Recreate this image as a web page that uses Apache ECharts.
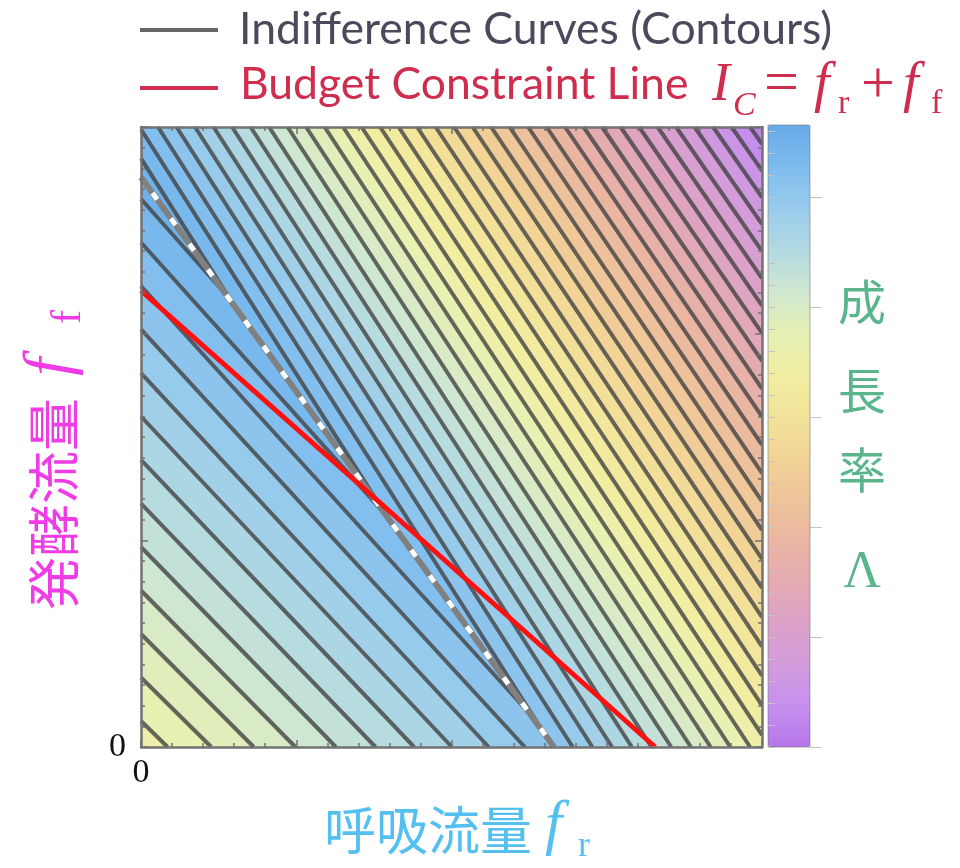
<!DOCTYPE html>
<html>
<head>
<meta charset="utf-8">
<script src="https://cdn.jsdelivr.net/npm/echarts@6.0.0/dist/echarts.min.js"></script>
<style>
  html, body { margin: 0; padding: 0; background: #ffffff; }
  #chart { width: 960px; height: 868px; }
</style>
</head>
<body>
<div id="chart"></div>
<script>
// ---- plot ranges -------------------------------------------------------
const FR_MAX = 1.0;      // respiration flux axis (x)
const FF_MAX = 1.125;    // fermentation flux axis (y)
const LAMBDA_MAX = 0.5655;

// ---- budget constraint  f_r + f_f = I_C --------------------------------
const budgetIC = 0.828;

// ---- optimal ridge (dashed) --------------------------------------------
const ridgeLine = [[0, 1.034], [0.665, 0]];

// ---- indifference curves ------------------------------------------------
// every contour is a kinked line: a "left" arm (fermentation side) and a
// "right" arm (respiration side) that meet on the ridge.
// right arm: f_r where its line crosses f_f = FF_MAX and f_f = 0
const rightArmTop = [-0.0320, -0.0023, 0.0275, 0.0573, 0.0871, 0.1169, 0.1467, 0.1765,
  0.2063, 0.2361, 0.2659, 0.2957, 0.3254, 0.3552, 0.3850, 0.4148, 0.4446, 0.4744,
  0.5042, 0.5340, 0.5638, 0.5936, 0.6234, 0.6531, 0.6829, 0.7127, 0.7425, 0.7723,
  0.8021, 0.8319, 0.8617, 0.8915, 0.9213, 0.9510, 0.9808];
const rightArmBottom = [0.5998, 0.6316, 0.6633, 0.6952, 0.7269, 0.7586, 0.7904, 0.8221,
  0.8538, 0.8855, 0.9173, 0.9490, 0.9808, 1.0125, 1.0443, 1.0760, 1.1077, 1.1394,
  1.1712, 1.2029, 1.2346, 1.2665, 1.2982, 1.3299, 1.3617, 1.3934, 1.4251, 1.4568,
  1.4886, 1.5203, 1.5522, 1.5839, 1.6156, 1.6473, 1.6791];
// left arm: f_f where its line crosses f_r = 0, and f_r where it crosses f_f = 0
const leftArmFF = [0.9944, 0.9154, 0.8365, 0.7576, 0.6786, 0.5997, 0.5208, 0.4418,
  0.3629, 0.2840, 0.2050, 0.1261, 0.0472, -0.0318,
  null, null, null, null, null, null, null, null, null, null, null, null, null, null,
  null, null, null, null, null, null, null];
const leftArmFR = [0.7844, 0.7301, 0.6747, 0.6180, 0.5599, 0.5006, 0.4398, 0.3776,
  0.3138, 0.2486, 0.1816, 0.1132, 0.0428, -0.0291,
  null, null, null, null, null, null, null, null, null, null, null, null, null, null,
  null, null, null, null, null, null, null];
// growth rate carried by each contour
const levelValues = [0.544, 0.529, 0.514, 0.499, 0.483, 0.468, 0.453, 0.438, 0.423,
  0.408, 0.392, 0.377, 0.362, 0.347, 0.332, 0.317, 0.301, 0.286, 0.271, 0.256, 0.241,
  0.226, 0.210, 0.195, 0.180, 0.165, 0.150, 0.135, 0.120, 0.104, 0.089, 0.074, 0.059,
  0.044, 0.029];

// ---- colour bar ticks ---------------------------------------------------
const cbMajorTicks = [0, 0.1, 0.2, 0.3, 0.4, 0.5];
const cbMinorTicks = [];
for (let v = 0; v <= LAMBDA_MAX + 1e-9; v += 0.02) cbMinorTicks.push(+v.toFixed(2));

const colorScale = ['#b676ea', '#c58fee', '#d29cdc', '#dca2c8', '#e4aab2', '#eab6a2',
  '#eec49a', '#f2d496', '#f2e39a', '#f1eea2', '#e6f0b6', '#cfe7d0', '#b2d9e2',
  '#98cbec', '#7ebcee', '#66aae8'];

// ---- geometry helpers ---------------------------------------------------
function armLine(i, side) {
  if (side === 'L') {
    const ffL = leftArmFF[i], frL = leftArmFR[i];
    if (ffL == null) return null;
    return { a: frL, b: -frL / ffL };          // f_r = a + b * f_f
  }
  return { a: rightArmBottom[i], b: (rightArmTop[i] - rightArmBottom[i]) / FF_MAX };
}

function clipHalf(poly, ln, sign) {
  const g = p => sign * (p[0] - ln.a - ln.b * p[1]);
  const out = [];
  for (let i = 0; i < poly.length; i++) {
    const P = poly[i], Q = poly[(i + 1) % poly.length];
    const gp = g(P), gq = g(Q);
    if (gp >= 0) out.push(P);
    if ((gp >= 0) !== (gq >= 0)) {
      const t = gp / (gp - gq);
      out.push([P[0] + t * (Q[0] - P[0]), P[1] + t * (Q[1] - P[1])]);
    }
  }
  return out;
}

const plotRect = [[0, 0], [FR_MAX, 0], [FR_MAX, FF_MAX], [0, FF_MAX]];

// region where growth >= contour i
function superLevel(i) {
  let poly = plotRect.slice();
  if (i < 0) return poly;
  const L = armLine(i, 'L'), R = armLine(i, 'R');
  if (L) poly = clipHalf(poly, L, 1);
  if (R && poly.length) poly = clipHalf(poly, R, -1);
  return poly;
}

// visible part of one arm
function armSegment(i, side) {
  const L = armLine(i, 'L'), R = armLine(i, 'R');
  const ln = side === 'L' ? L : R;
  if (!ln) return null;
  let lo = 0, hi = FF_MAX;
  const restrict = (c, d) => {           // c * ff <= d
    if (Math.abs(c) < 1e-12) { if (d < 0) hi = -Infinity; return; }
    if (c > 0) hi = Math.min(hi, d / c); else lo = Math.max(lo, d / c);
  };
  restrict(-ln.b, ln.a);
  restrict(ln.b, FR_MAX - ln.a);
  if (L && R) restrict(L.b - R.b, R.a - L.a);
  if (!(lo < hi)) return null;
  return [[ln.a + ln.b * lo, lo], [ln.a + ln.b * hi, hi]];
}

// band data: base first, then contours from lowest to highest growth
const bandData = [[-1, levelValues[levelValues.length - 1] - 0.0075]];
for (let i = levelValues.length - 1; i >= 0; i--) {
  const step = i > 0 ? (levelValues[i - 1] - levelValues[i]) : (levelValues[0] - levelValues[1]);
  bandData.push([i, levelValues[i] + step / 2]);
}
const contourData = levelValues.map((v, i) => [i, v]);

// ---- chart --------------------------------------------------------------
const chart = echarts.init(document.getElementById('chart'), null, { renderer: 'canvas' });

const frameColor = '#727272';
const tickStyle = { color: '#727272', width: 1.5 };
const zeroLabel = v => (Math.abs(v) < 1e-9 ? '0' : '');

function frameAxis(extra) {
  return Object.assign({
    type: 'value', gridIndex: 0, z: 20,
    axisLine: { show: true, onZero: false, lineStyle: { color: frameColor, width: 2.5 } },
    axisTick: { show: true, inside: true, length: 7, lineStyle: tickStyle },
    splitLine: { show: false }, axisLabel: { show: false }
  }, extra);
}
const zeroLabelStyle = { show: true, formatter: zeroLabel, color: '#111',
  fontFamily: 'Liberation Serif', fontSize: 34 };

const option = {
  animation: false,
  backgroundColor: '#ffffff',
  grid: [
    { left: 141, top: 127, width: 621, height: 620, show: false },
    { left: 768, top: 125, width: 42, height: 622, show: true, z: 20,
      borderColor: 'rgba(110,110,110,0.55)', borderWidth: 1, backgroundColor: 'transparent' }
  ],
  xAxis: [
    frameAxis({ min: 0, max: FR_MAX, interval: 0.25, position: 'bottom',
      minorTick: { show: true, splitNumber: 5, length: 4, lineStyle: tickStyle },
      axisLabel: Object.assign({ margin: 9 }, zeroLabelStyle) }),
    frameAxis({ min: 0, max: FR_MAX, interval: 0.25, position: 'top',
      minorTick: { show: true, splitNumber: 5, length: 4, lineStyle: tickStyle } }),
    { type: 'value', gridIndex: 1, min: 0, max: 1, show: false }
  ],
  yAxis: [
    frameAxis({ min: 0, max: FF_MAX, interval: 0.375, position: 'left',
      minorTick: { show: true, splitNumber: 10, length: 4, lineStyle: tickStyle },
      axisLabel: Object.assign({ margin: 15 }, zeroLabelStyle) }),
    frameAxis({ min: 0, max: FF_MAX, interval: 0.375, position: 'right',
      minorTick: { show: true, splitNumber: 10, length: 4, lineStyle: tickStyle } }),
    { type: 'value', gridIndex: 1, min: 0, max: LAMBDA_MAX, position: 'right', z: 20,
      axisLine: { show: false }, splitLine: { show: false }, axisLabel: { show: false },
      axisTick: { show: true, inside: false, length: 7, customValues: cbMinorTicks,
        lineStyle: { color: '#c2c2c2', width: 1 } } },
    { type: 'value', gridIndex: 1, min: 0, max: LAMBDA_MAX, position: 'right', z: 20,
      axisLine: { show: false }, splitLine: { show: false }, axisLabel: { show: false },
      axisTick: { show: true, inside: false, length: 12, customValues: cbMajorTicks,
        lineStyle: { color: '#c2c2c2', width: 1 } } }
  ],
  visualMap: {
    type: 'continuous', seriesIndex: 0, dimension: 1,
    min: 0, max: LAMBDA_MAX, orient: 'vertical',
    left: 768, top: 125, itemWidth: 42, itemHeight: 622, padding: 0,
    calculable: false, hoverLink: false, text: null, showLabel: false,
    inRange: { color: colorScale }
  },
  series: [
    { // growth-rate landscape, painted as nested super-level regions
      type: 'custom', xAxisIndex: 0, yAxisIndex: 0, silent: true, z: 1,
      data: bandData,
      renderItem: function (params, api) {
        const poly = superLevel(api.value(0));
        if (poly.length < 3) return null;
        return { type: 'polygon', z2: params.dataIndex,
          shape: { points: poly.map(p => api.coord(p)) },
          style: { fill: api.visual('color'), stroke: null } };
      }
    },
    { // indifference curves
      type: 'custom', xAxisIndex: 0, yAxisIndex: 0, silent: true, z: 5,
      data: contourData,
      renderItem: function (params, api) {
        const i = api.value(0);
        const kids = [];
        ['L', 'R'].forEach(side => {
          const seg = armSegment(i, side);
          if (!seg) return;
          const p1 = api.coord(seg[0]), p2 = api.coord(seg[1]);
          kids.push({ type: 'line', shape: { x1: p1[0], y1: p1[1], x2: p2[0], y2: p2[1] },
            style: { stroke: 'rgba(66,66,66,0.8)', lineWidth: 4, lineCap: 'butt' } });
        });
        return { type: 'group', children: kids };
      }
    },
    { type: 'line', xAxisIndex: 0, yAxisIndex: 0, data: ridgeLine, showSymbol: false, silent: true,
      lineStyle: { color: '#808080', width: 6 }, z: 6 },
    { type: 'line', xAxisIndex: 0, yAxisIndex: 0, data: ridgeLine, showSymbol: false, silent: true,
      lineStyle: { color: '#ffffff', width: 5, type: [8, 23.5], dashOffset: 12 }, z: 7 },
    { type: 'line', xAxisIndex: 0, yAxisIndex: 0, data: [[0, budgetIC], [budgetIC, 0]],
      showSymbol: false, silent: true, lineStyle: { color: '#ff1010', width: 5 }, z: 8 }
  ],
  graphic: [
    // legend
    { type: 'line', shape: { x1: 140, y1: 30, x2: 218, y2: 30 }, style: { stroke: '#666666', lineWidth: 4 } },
    { type: 'text', x: 239, y: 30, style: { text: 'Indifference Curves (Contours)', fontFamily: 'Lato',
      fontSize: 44.5, fill: '#4b4a5c', align: 'left', verticalAlign: 'middle' } },
    { type: 'line', shape: { x1: 140, y1: 88, x2: 218, y2: 88 }, style: { stroke: '#d0304e', lineWidth: 4 } },
    { type: 'text', x: 240, y: 85, style: { text: 'Budget Constraint Line', fontFamily: 'Lato',
      fontSize: 44.5, fill: '#cf2d4d', align: 'left', verticalAlign: 'middle' } },
    { type: 'text', x: 712, y: 86, style: { text: 'I', fontFamily: 'Liberation Serif', fontStyle: 'italic',
      fontSize: 54, fill: '#cf2d4d', verticalAlign: 'middle' } },
    { type: 'text', x: 733, y: 106, style: { text: 'C', fontFamily: 'Liberation Serif', fontStyle: 'italic',
      fontSize: 34, fill: '#cf2d4d', verticalAlign: 'middle' } },
    { type: 'text', x: 764, y: 86, style: { text: '=', fontFamily: 'Liberation Serif',
      fontSize: 62, fill: '#cf2d4d', verticalAlign: 'middle' } },
    { type: 'text', x: 814, y: 86, style: { text: 'f', fontFamily: 'Liberation Serif', fontStyle: 'italic',
      fontSize: 56, fill: '#cf2d4d', verticalAlign: 'middle' } },
    { type: 'text', x: 838, y: 104, style: { text: 'r', fontFamily: 'Liberation Serif',
      fontSize: 34, fill: '#cf2d4d', verticalAlign: 'middle' } },
    { type: 'text', x: 861, y: 86, style: { text: '+', fontFamily: 'Liberation Serif',
      fontSize: 60, fill: '#cf2d4d', verticalAlign: 'middle' } },
    { type: 'text', x: 903, y: 86, style: { text: 'f', fontFamily: 'Liberation Serif', fontStyle: 'italic',
      fontSize: 56, fill: '#cf2d4d', verticalAlign: 'middle' } },
    { type: 'text', x: 931, y: 104, style: { text: 'f', fontFamily: 'Liberation Serif',
      fontSize: 34, fill: '#cf2d4d', verticalAlign: 'middle' } },

    // y-axis title
    { type: 'group', x: 54, y: 448, rotation: Math.PI / 2, children: [
      { type: 'text', x: -162, y: 0, style: { text: '発酵流量', fontFamily: 'Noto Sans CJK JP',
        fontSize: 53, fill: '#f03ce6', align: 'left', verticalAlign: 'middle' } },
      { type: 'text', x: 72, y: -2, style: { text: 'f', fontFamily: 'Liberation Serif', fontStyle: 'italic',
        fontSize: 66, fill: '#f03ce6', align: 'left', verticalAlign: 'middle' } },
      { type: 'text', x: 124, y: 15, style: { text: 'f', fontFamily: 'Liberation Serif',
        fontSize: 42, fill: '#f03ce6', align: 'left', verticalAlign: 'middle' } }
    ] },

    // x-axis title
    { type: 'text', x: 324, y: 830, style: { text: '呼吸流量', fontFamily: 'Noto Sans CJK JP',
      fontSize: 52, fill: '#55c0f0', align: 'left', verticalAlign: 'middle' } },
    { type: 'text', x: 545, y: 827, style: { text: 'f', fontFamily: 'Liberation Serif', fontStyle: 'italic',
      fontSize: 62, fill: '#55c0f0', align: 'left', verticalAlign: 'middle' } },
    { type: 'text', x: 578, y: 847, style: { text: 'r', fontFamily: 'Liberation Serif',
      fontSize: 36, fill: '#55c0f0', align: 'left', verticalAlign: 'middle' } },

    // colour bar title
    { type: 'text', x: 862, y: 302, style: { text: '成', fontFamily: 'Noto Sans CJK JP', fontSize: 48,
      fill: '#5ab48c', align: 'center', verticalAlign: 'middle' } },
    { type: 'text', x: 862, y: 391, style: { text: '長', fontFamily: 'Noto Sans CJK JP', fontSize: 48,
      fill: '#5ab48c', align: 'center', verticalAlign: 'middle' } },
    { type: 'text', x: 862, y: 470, style: { text: '率', fontFamily: 'Noto Sans CJK JP', fontSize: 48,
      fill: '#5ab48c', align: 'center', verticalAlign: 'middle' } },
    { type: 'text', x: 862, y: 573, style: { text: 'Λ', fontFamily: 'Liberation Serif', fontSize: 52,
      fill: '#5ab48c', align: 'center', verticalAlign: 'middle' } }
  ]
};

chart.setOption(option);
</script>
</body>
</html>
